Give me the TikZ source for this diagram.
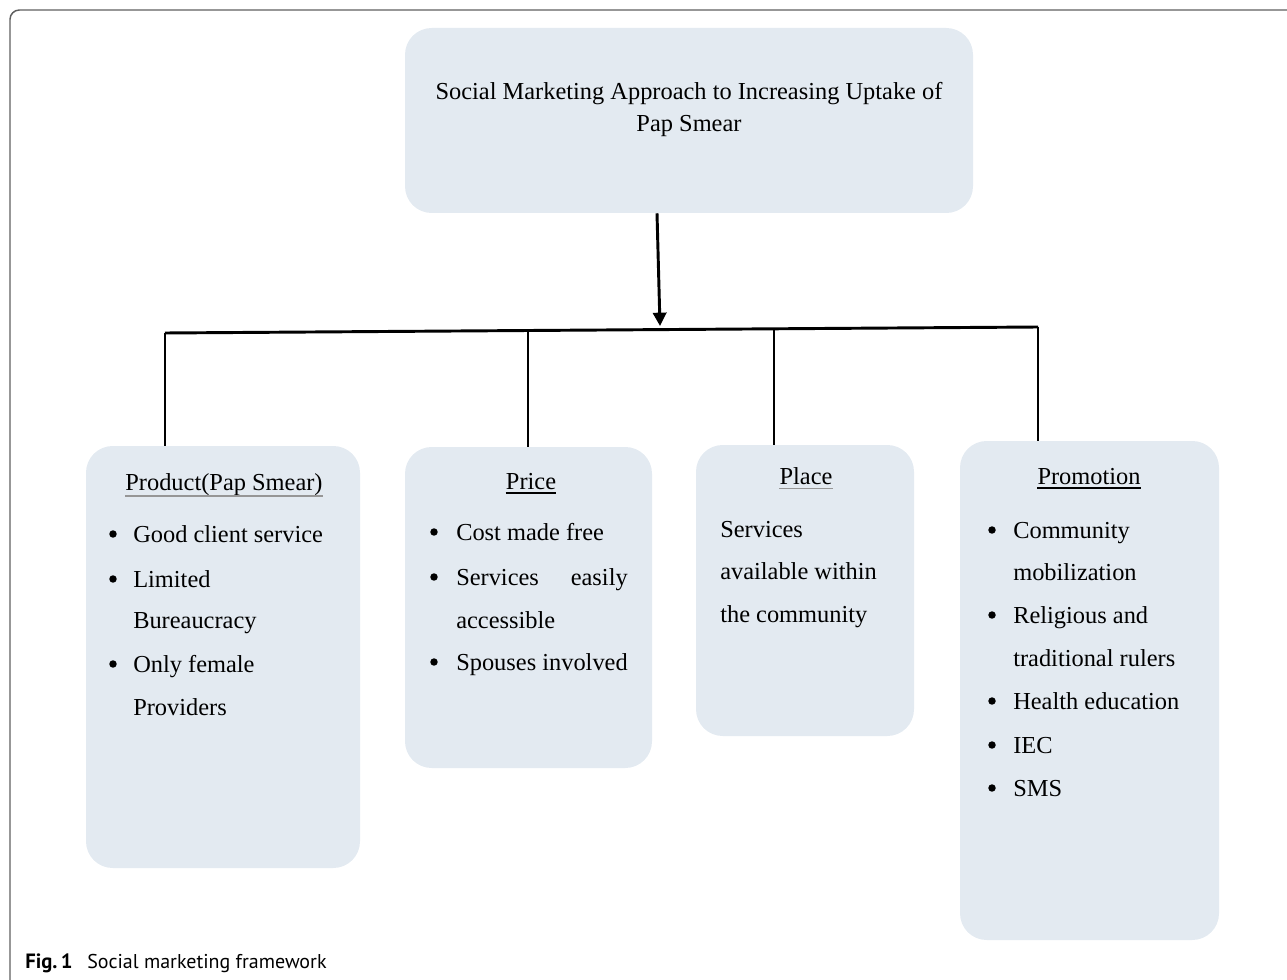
\documentclass[tikz,border=0pt]{standalone}
\usepackage{fontspec}
\setmainfont{Liberation Serif}
\newfontfamily\capfont{PT Sans}
\usetikzlibrary{arrows.meta,fit}
\definecolor{boxfill}{RGB}{227,234,241}
\definecolor{framegray}{RGB}{95,95,95}
\definecolor{ulgray}{RGB}{150,150,150}
\begin{document}
\begin{tikzpicture}[x=0.75pt,y=-0.75pt,
  box/.style={fill=boxfill, draw=none, rounded corners=20pt, inner sep=0pt},
  txt/.style={inner sep=0pt, anchor=base west, font=\fontsize{18.3}{22}\selectfont},
  txtr/.style={inner sep=0pt, anchor=base east, font=\fontsize{18.3}{22}\selectfont},
  head/.style={inner sep=0pt, anchor=base, font=\fontsize{18.3}{22}\selectfont},
  bul/.style={circle, fill=black, inner sep=0pt, minimum size=5.6pt},
  ulblack/.style={black, line width=0.8pt},
  ulgrey/.style={ulgray, line width=0.8pt},
  mainarrow/.style={line width=2.2pt, -{Triangle[width=10pt,length=10pt]}},
  busline/.style={line width=2.2pt},
  dropline/.style={line width=1.5pt},
  capbold/.style={inner sep=0pt, anchor=base west, font=\capfont\bfseries\fontsize{15.5}{18}\selectfont},
  capreg/.style={inner sep=0pt, anchor=base west, font=\capfont\fontsize{15}{18}\selectfont}
]
\useasboundingbox (0,0) rectangle (1287,980);
% frame
\draw[framegray, line width=1.1pt, rounded corners=7pt] (10,980) -- (10,10) -- (1287,10);

% boxes
\node[box, fit={(405,28) (973,213)}] (top) {};
\node[box, fit={(86,446) (360,868)}] (prod) {};
\node[box, fit={(405,447) (652,768)}] (price) {};
\node[box, fit={(696,445) (914,736)}] (place) {};
\node[box, fit={(960,441) (1219,940)}] (promo) {};

% title
\node[head] (t1) at (689,100) {Social Marketing Approach to Increasing Uptake of};
\node[head] (t2) at (689,132) {Pap Smear};

% connectors
\coordinate (b1) at (165,333);
\coordinate (b2) at (528,330.5);
\coordinate (b3) at (774,328.8);
\coordinate (b4) at (1038,327);
\coordinate (bm) at (660,326);
\draw[mainarrow] ([xshift=-24pt]top.south) -- (bm);
\draw[busline] (b1) -- (b4);
\draw[busline] (b1) -- (b1 |- prod.north);
\draw[dropline] (b2) -- (b2 |- price.north);
\draw[dropline] (b3) -- (b3 |- place.north);
\draw[dropline] (b4) -- (b4 |- promo.north);

% Product
\node[head] (hprod) at (224,490) {Product(Pap Smear)};
\draw[ulgrey] ([yshift=-4.5pt]hprod.base west) -- ([yshift=-4.5pt]hprod.base east);
\node[bul] (pb1) at (113,534) {};
\node[txt] (p1) at (133,542) {Good client service};
\node[bul] (pb2) at (113,579) {};
\node[txt] (p2) at (133,587) {Limited};
\node[txt] (p3) at (133,628) {Bureaucracy};
\node[bul] (pb3) at (113,664) {};
\node[txt] (p4) at (133,672) {Only female};
\node[txt] (p5) at (133,715) {Providers};

% Price
\node[head] (hprice) at (531,489) {Price};
\draw[ulblack] ([yshift=-3pt]hprice.base west) -- ([yshift=-3pt]hprice.base east);
\node[bul] (rb1) at (434,532) {};
\node[txt] (r1) at (456,540) {Cost made free};
\node[bul] (rb2) at (434,577) {};
\node[txt] (r2) at (456,585) {Services};
\node[txtr] (r2b) at (628,585) {easily};
\node[txt] (r3) at (456,628) {accessible};
\node[bul] (rb3) at (434,662) {};
\node[txt] (r4) at (456,670) {Spouses involved};

% Place
\node[head] (hplace) at (806,484) {Place};
\draw[ulgrey] ([yshift=-3.5pt]hplace.base west) -- ([yshift=-3.5pt]hplace.base east);
\node[txt] (l1) at (720,537) {Services};
\node[txt] (l2) at (720,579) {available within};
\node[txt] (l3) at (720,622) {the community};

% Promotion
\node[head] (hpromo) at (1089,484) {Promotion};
\draw[ulblack] ([yshift=-3pt]hpromo.base west) -- ([yshift=-3pt]hpromo.base east);
\node[bul] (mb1) at (992,530) {};
\node[txt] (m1) at (1013,538) {Community};
\node[txt] (m2) at (1013,580) {mobilization};
\node[bul] (mb2) at (992,615) {};
\node[txt] (m3) at (1013,623) {Religious and};
\node[txt] (m4) at (1013,666) {traditional rulers};
\node[bul] (mb3) at (992,701) {};
\node[txt] (m5) at (1013,709) {Health education};
\node[bul] (mb4) at (992,745) {};
\node[txt] (m6) at (1013,753) {IEC};
\node[bul] (mb5) at (992,788) {};
\node[txt] (m7) at (1013,796) {SMS};

% caption
\node[capbold] (figlab) at (25,968) {Fig.\,1};
\node[capreg] (cap) at (87,968) {Social marketing framework};
\end{tikzpicture}
\end{document}
